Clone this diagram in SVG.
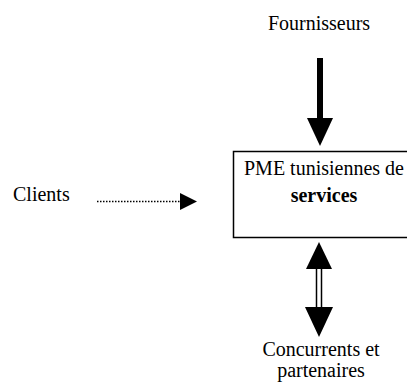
<svg xmlns="http://www.w3.org/2000/svg" width="407" height="383" viewBox="0 0 407 383">
<style>
text{font-family:"Liberation Serif","Times New Roman",serif;font-size:20px;fill:#000}
.c{text-anchor:middle}
.b{font-weight:bold}
</style>
<rect width="407" height="383" fill="#fff"/>
<g id="fournisseurs"><text class="c" x="319" y="30">Fournisseurs</text></g>
<g id="pme">
<rect x="233.5" y="151.5" width="182" height="86" fill="#fff" stroke="#000" stroke-width="1.5"/>
<text class="c" x="324" y="175" font-size="21">PME tunisiennes de</text>
<text class="c b" x="324" y="202">services</text>
</g>
<g id="clients"><text x="13" y="201">Clients</text></g>
<g id="concurrents">
<text class="c" x="321" y="356">Concurrents et</text>
<text class="c" x="321" y="377">partenaires</text>
</g>
<g id="connectors">
<rect x="317" y="58" width="6" height="61" fill="#000"/>
<polygon points="307,118 333,118 320,146" fill="#000"/>
<line x1="97" y1="201.5" x2="181" y2="201.5" stroke="#000" stroke-width="1.5" stroke-dasharray="1.5,1.5"/>
<polygon points="180,193 197,201.5 180,210" fill="#000"/>
<polygon points="319,242 306,269 332,269" fill="#000"/>
<line x1="316.5" y1="268" x2="316.5" y2="308" stroke="#000" stroke-width="1.5"/>
<line x1="321.5" y1="268" x2="321.5" y2="308" stroke="#000" stroke-width="1.5"/>
<polygon points="305,307 333,307 319,337" fill="#000"/>
</g>
</svg>
